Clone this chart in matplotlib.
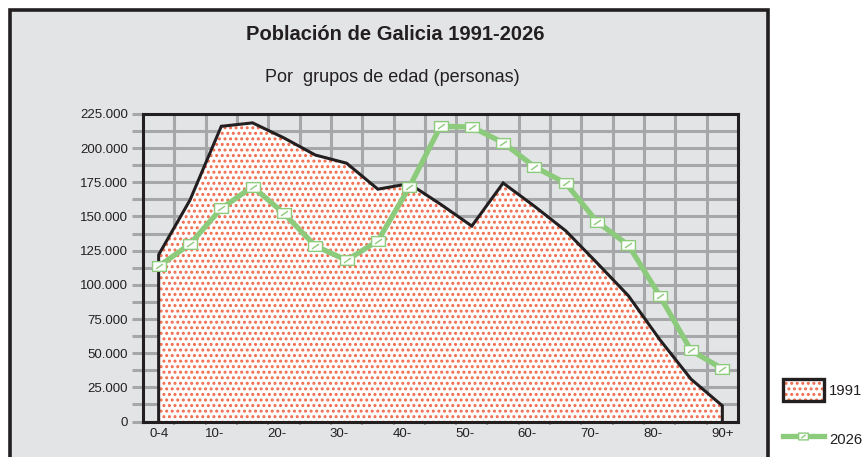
import numpy as np
import matplotlib
matplotlib.use("Agg")
import matplotlib.pyplot as plt
from matplotlib.patches import Patch, Rectangle
from matplotlib.path import Path
from matplotlib.legend_handler import HandlerTuple
from matplotlib.ticker import FuncFormatter, MultipleLocator
import matplotlib.transforms as mtransforms

plt.rcParams['font.family'] = ['Liberation Sans', 'DejaVu Sans']
plt.rcParams['hatch.linewidth'] = 1.4

# age groups 0-4, 5-9, ..., 85-89, 90+
age_groups = ['0-4', '5-9', '10-14', '15-19', '20-24', '25-29', '30-34', '35-39',
              '40-44', '45-49', '50-54', '55-59', '60-64', '65-69', '70-74',
              '75-79', '80-84', '85-89', '90+']
tick_labels = ['0-4', '10-', '20-', '30-', '40-', '50-', '60-', '70-', '80-', '90+']

pop_1991 = [122000, 162000, 216000, 218500, 207500, 195000, 189000, 170000,
            174000, 159000, 143000, 174500, 157500, 139500, 116000, 92000,
            60000, 31000, 11500]
pop_2026 = [113500, 129800, 155900, 171800, 152300, 128500, 118000, 132200,
            171300, 216000, 215500, 204000, 186400, 174300, 146100, 129000,
            92000, 52000, 38600]

DARK = '#231f20'
PANEL = '#e3e4e6'
GRID = '#a6a7a9'
DOTS = '#f26a4b'
GREEN = '#8dcb7c'

fig = plt.figure(figsize=(8.66, 4.57), dpi=100)
fig.patch.set_facecolor('white')

# grey framed panel behind the chart
fig.add_artist(Rectangle((10 / 866, -0.05), 758 / 866, 1.05 - 10 / 457,
                         transform=fig.transFigure, facecolor=PANEL,
                         edgecolor=DARK, linewidth=2.6, zorder=0))

fig.text(395 / 866, 1 - 34 / 457, 'Población de Galicia 1991-2026',
         ha='center', va='center', fontsize=14.5, fontweight='bold', color=DARK)
fig.text(392 / 866, 1 - 77 / 457, 'Por  grupos de edad (personas)',
         ha='center', va='center', fontsize=13, color=DARK)

ax = fig.add_axes([143 / 866, 35.5 / 457, 595 / 866, 307.5 / 457])
ax.set_facecolor(PANEL)
x = np.arange(len(age_groups))

# 1991 area, dotted fill plus black outline
ax.fill_between(x, pop_1991, 0, facecolor='white', edgecolor=DOTS,
                hatch='...', linewidth=0, zorder=1)
ax.plot(np.r_[x[0], x, x[-1]], np.r_[0, pop_1991, 0], color=DARK,
        linewidth=2.2, solid_joinstyle='miter', zorder=3)

# 2026 line with boxed markers
box = Path([(-1, -0.7), (1, -0.7), (1, 0.7), (-1, 0.7), (-1, -0.7),
            (-0.5, -0.35), (0.5, 0.35)],
           [Path.MOVETO, Path.LINETO, Path.LINETO, Path.LINETO, Path.CLOSEPOLY,
            Path.MOVETO, Path.LINETO])
line26, = ax.plot(x, pop_2026, color=GREEN, linewidth=3.8, marker=box,
                  markersize=10, markerfacecolor='white', markeredgecolor=GREEN,
                  markeredgewidth=1.0, zorder=4, clip_on=False)

ax.set_xlim(-0.5, len(age_groups) - 0.5)
ax.set_ylim(0, 225000)

ax.yaxis.set_major_locator(MultipleLocator(25000))
ax.yaxis.set_minor_locator(MultipleLocator(12500))
ax.yaxis.set_major_formatter(FuncFormatter(
    lambda v, p: '{:,.0f}'.format(v).replace(',', '.')))
ax.set_xticks(x[::2])
ax.set_xticklabels(tick_labels)
ax.set_xticks(x[:-1] + 0.5, minor=True)

ax.tick_params(axis='y', which='both', direction='out', length=8, width=2.2,
               color=GRID, labelsize=9.5, labelcolor=DARK, pad=3)
ax.tick_params(axis='x', which='major', length=0, labelsize=9.5,
               labelcolor=DARK, pad=5)
ax.tick_params(axis='x', which='minor', direction='out', length=2, width=1.5,
               color=GRID)

# end ticks in black, like the frame
yt = ax.yaxis.get_major_ticks()
for t in (yt[0], yt[-1]):
    t.tick1line.set_color(DARK)

# shift the "10-" style labels a bit left
shift = mtransforms.ScaledTranslation(-7 / 100, 0, fig.dpi_scale_trans)
for lab in ax.get_xticklabels():
    if lab.get_text().endswith('-'):
        lab.set_transform(lab.get_transform() + shift)

ax.set_axisbelow(True)
ax.grid(axis='y', which='both', color=GRID, linewidth=2.2)
ax.grid(axis='x', which='minor', color=GRID, linewidth=2.2)
for s in ax.spines.values():
    s.set_color(DARK)
    s.set_linewidth(2.2)
    s.set_zorder(5)

# legend on the white strip at the right
dots = Patch(facecolor='white', edgecolor=DOTS, hatch='...', linewidth=0)
frame = Patch(facecolor='none', edgecolor=DARK, linewidth=2.4)
fig.legend([(dots, frame), line26], ['1991', '2026'],
           handler_map={tuple: HandlerTuple(ndivide=1, pad=0)},
           loc='upper left', bbox_to_anchor=(783 / 866, 1 - 379 / 457),
           frameon=False, borderpad=0, borderaxespad=0, fontsize=10.7,
           handlelength=2.75, handleheight=1.95, labelspacing=1.8,
           handletextpad=0.35, numpoints=1, markerscale=0.7, labelcolor=DARK)

fig.savefig('out.png', dpi=100)
